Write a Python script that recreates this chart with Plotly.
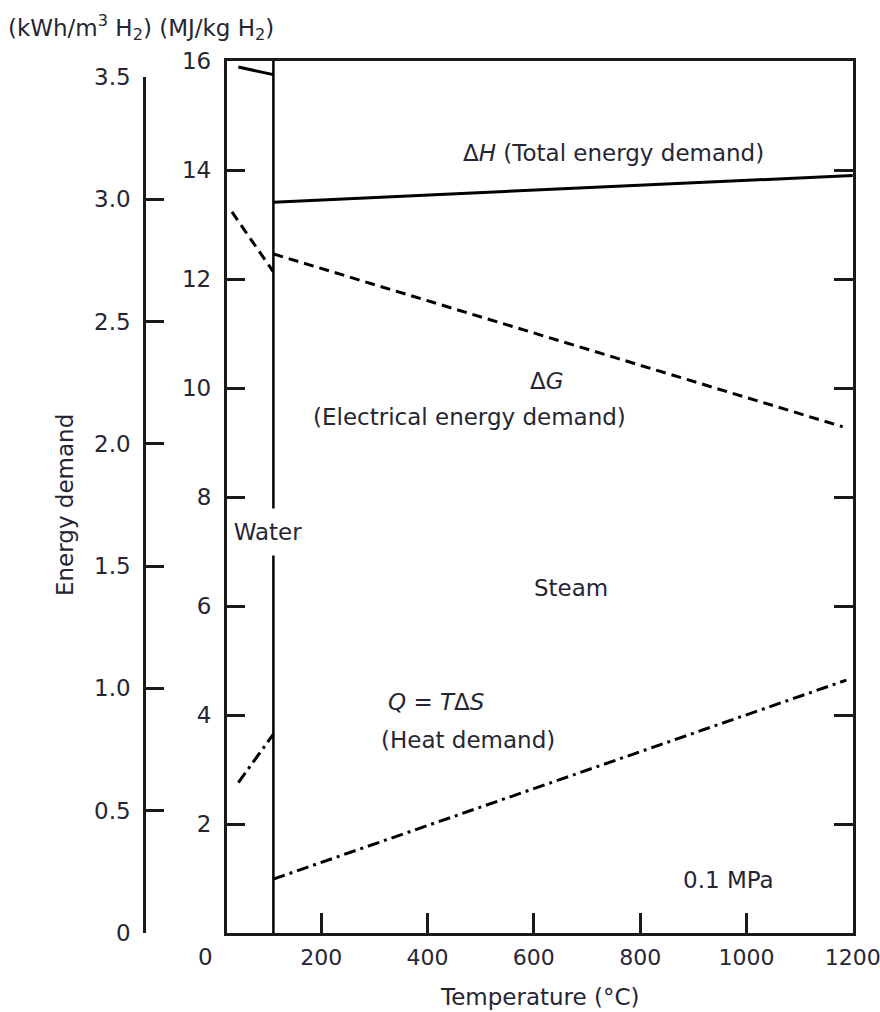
import plotly.graph_objects as go

# ---- data ----
boundary_T = 110           # water / steam boundary, deg C
y_top = 16                 # MJ/kg H2 axis top

dH_water_T = [44, 110]
dH_water_E = [15.89, 15.75]
dH_steam_T = [110, 1200]
dH_steam_E = [13.41, 13.90]

dG_water_T = [32, 110]
dG_water_E = [13.23, 12.13]
dG_steam_T = [110, 1181]
dG_steam_E = [12.46, 9.29]

Q_water_T = [44, 110]
Q_water_E = [2.76, 3.65]
Q_steam_T = [110, 1188]
Q_steam_E = [0.99, 4.64]

x_ticks = [200, 400, 600, 800, 1000, 1200]
mj_ticks = [2, 4, 6, 8, 10, 12, 14, 16]
kwh_ticks = [0, 0.5, 1.0, 1.5, 2.0, 2.5, 3.0, 3.5]
kwh_labels = ["0", "0.5", "1.0", "1.5", "2.0", "2.5", "3.0", "3.5"]

# ---- layout geometry ----
W, H = 880, 1012
plot_left_px = 226.7
plot_right_px = 853.3
outer_axis_px = 146
outer_top_px = 77
ML, MT, MB = 40, 61, 79
MR = W - plot_right_px
PW = W - ML - MR
PH = H - MT - MB

def px_x(px):
    return (px - ML) / PW

def px_y(py):
    return (H - MB - py) / PH

FONT = "DejaVu Sans, Verdana, sans-serif"
TXT = "#262633"
FS = 23
LINE = "#1a1a1a"

fig = go.Figure()

def add_line(x, y, dash="solid", width=3):
    fig.add_trace(go.Scatter(x=x, y=y, mode="lines",
                             line=dict(color="black", width=width, dash=dash),
                             hoverinfo="skip", showlegend=False))

add_line([boundary_T, boundary_T], [0, y_top], width=2.5)
add_line(dH_water_T, dH_water_E)
add_line(dH_steam_T, dH_steam_E)
add_line(dG_water_T, dG_water_E, dash="10px,6px")
add_line(dG_steam_T, dG_steam_E, dash="10px,6px")
add_line(Q_water_T, Q_water_E, dash="12px,5px,3px,5px")
add_line(Q_steam_T, Q_steam_E, dash="12px,5px,3px,5px")

# dummy trace for the outer kWh axis
fig.add_trace(go.Scatter(x=[0], y=[0], xaxis="x2", yaxis="y2", mode="markers",
                         marker=dict(opacity=0), hoverinfo="skip", showlegend=False))

kwh_top = 3.5
kwh_domain_top = px_y(outer_top_px)

fig.update_layout(
    width=W, height=H, autosize=False,
    margin=dict(l=ML, r=MR, t=MT, b=MB, autoexpand=False),
    paper_bgcolor="white", plot_bgcolor="white",
    font=dict(family=FONT, size=FS, color=TXT),
    xaxis=dict(domain=[px_x(plot_left_px), 1], range=[22, 1200.5],
               tickvals=x_ticks, ticks="inside", ticklen=20, tickwidth=2.5,
               tickcolor=LINE, showline=True, linewidth=2.5, linecolor=LINE,
               mirror=True, showgrid=False, zeroline=False,
               ticklabelstandoff=3, automargin=False,
               ticklabeloverflow="allow", tickfont=dict(size=22)),
    yaxis=dict(domain=[0, 1], range=[0, y_top], tickvals=mj_ticks,
               ticks="inside", ticklen=19, tickwidth=2.5, tickcolor=LINE,
               showline=True, linewidth=2.5, linecolor=LINE, mirror="ticks",
               showgrid=False, zeroline=False, ticklabelstandoff=8,
               automargin=False, ticklabeloverflow="allow"),
    xaxis2=dict(domain=[px_x(outer_axis_px), px_x(plot_left_px)], anchor="y2",
                visible=False, range=[0, 1], automargin=False),
    yaxis2=dict(domain=[0, kwh_domain_top], range=[0, kwh_top], anchor="x2",
                tickvals=kwh_ticks, ticktext=kwh_labels, ticks="inside",
                ticklen=18, tickwidth=2.5, tickcolor=LINE, showline=True,
                linewidth=2.5, linecolor=LINE, showgrid=False, zeroline=False,
                ticklabelstandoff=8, automargin=False, ticklabeloverflow="allow"),
)

def ann(text, x, y, xref="x", yref="y", xanchor="center", **kw):
    fig.add_annotation(text=text, x=x, y=y, xref=xref, yref=yref,
                       xanchor=xanchor, yanchor="middle",
                       showarrow=False, font=dict(family=FONT, size=FS, color=TXT), **kw)

ann("(kWh/m<sup>3</sup> H<sub>2</sub>) (MJ/kg H<sub>2</sub>)", px_x(6), px_y(27),
    xref="paper", yref="paper", xanchor="left")
ann("Energy demand", px_x(65), px_y(505), xref="paper", yref="paper", textangle=-90)
ann("Temperature (°C)", px_x(540), px_y(997), xref="paper", yref="paper")
ann("0", px_x(206), px_y(957), xref="paper", yref="paper")

ann("Δ<i>H</i> (Total energy demand)", 749, 14.32)
ann("Δ<i>G</i>", 625, 10.12)
ann("(Electrical energy demand)", 479, 9.46)
ann("Water", 100, 7.36, bgcolor="white", width=74, height=46, borderpad=0)
ann("Steam", 669, 6.33)
ann("<i>Q</i> = <i>T</i>Δ<i>S</i>", 415, 4.24)
ann("(Heat demand)", 477, 3.54)
ann("0.1 MPa", 967, 0.97)

fig.write_html("out.html", config={"responsive": False})
